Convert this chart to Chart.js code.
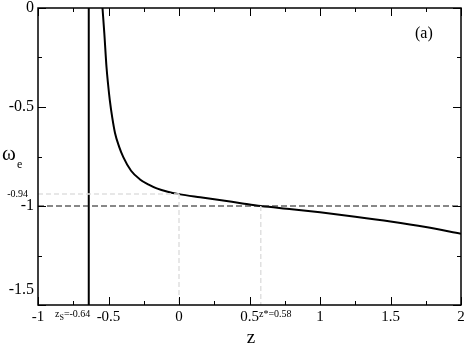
<!DOCTYPE html>
<html>
<head>
<meta charset="utf-8">
<script src="https://cdn.jsdelivr.net/npm/chart.js@4.4.1/dist/chart.umd.min.js"></script>
<style>
  html, body { margin: 0; padding: 0; background: #fff; }
  #wrap { width: 468px; height: 346px; }
</style>
</head>
<body>
<div id="wrap"><canvas id="chart"></canvas></div>
<script>
// curve omega_e(z)
const zValues = [-0.5426, -0.5298, -0.5142, -0.503, -0.4908, -0.473, -0.4539, -0.425, -0.395,
  -0.34, -0.2766, -0.215, -0.158, -0.08, 0, 0.15, 0.3, 0.45, 0.58, 0.8, 1.0, 1.25, 1.5, 1.75, 2.0];
const omegaValues = [0, -0.126, -0.298, -0.385, -0.465, -0.555, -0.631, -0.70, -0.753,
  -0.822, -0.866, -0.892, -0.911, -0.928, -0.94, -0.956, -0.971, -0.987, -1.0, -1.016, -1.032, -1.054, -1.078, -1.106, -1.14];

// reference lines
const zSingular = -0.64;
const zStar = 0.58;
const omegaToday = -0.94;
const omegaPhantom = -1;

const xRange = [-1, 2];
const yRange = [-1.5, 0];
const xMajor = [-1, -0.5, 0, 0.5, 1, 1.5, 2];
const xMinor = [-0.75, -0.25, 0.25, 0.75, 1.25, 1.75];
const yMajor = [0, -0.5, -1, -1.5];
const yMinor = [-0.25, -0.75, -1.25];
const yLabels = ['0', '-0.5', '-1', '-1.5'];

const SERIF = '"Liberation Serif", "DejaVu Serif", serif';

function pts(xs, ys) {
  return xs.map((x, i) => ({ x: x, y: ys[i] }));
}

// frame, inward ticks, y labels and annotations
const framePlugin = {
  id: 'frame',
  afterDatasetsDraw(chart) {
    const ctx = chart.ctx;
    const a = chart.chartArea;
    const xs = chart.scales.x;
    const ys = chart.scales.y;
    ctx.save();
    ctx.strokeStyle = '#000';
    ctx.lineWidth = 1.5;
    ctx.strokeRect(a.left, a.top, a.right - a.left, a.bottom - a.top);

    ctx.lineWidth = 1;
    const tick = (v, len, horizontal) => {
      ctx.beginPath();
      if (horizontal) {
        const p = Math.round(xs.getPixelForValue(v)) + 0.5;
        ctx.moveTo(p, a.bottom); ctx.lineTo(p, a.bottom - len);
        ctx.moveTo(p, a.top); ctx.lineTo(p, a.top + len);
      } else {
        const p = Math.round(ys.getPixelForValue(v)) + 0.5;
        ctx.moveTo(a.left, p); ctx.lineTo(a.left + len, p);
        ctx.moveTo(a.right, p); ctx.lineTo(a.right - len, p);
      }
      ctx.stroke();
    };
    xMajor.forEach(v => tick(v, 8, true));
    xMinor.forEach(v => tick(v, 4, true));
    yMajor.forEach(v => tick(v, 8, false));
    yMinor.forEach(v => tick(v, 4, false));

    ctx.fillStyle = '#000';
    ctx.font = '16px ' + SERIF;
    ctx.textAlign = 'right';
    ctx.textBaseline = 'middle';
    yMajor.forEach((v, i) => {
      let p = ys.getPixelForValue(v);
      if (v === -1.5) p -= 15;
      ctx.fillText(yLabels[i], a.left - 4, p);
    });

    ctx.font = '10px ' + SERIF;
    ctx.fillText('-0.94', 28, ys.getPixelForValue(omegaToday));

    // omega_e
    ctx.textAlign = 'left';
    ctx.textBaseline = 'alphabetic';
    ctx.font = '21px ' + SERIF;
    ctx.fillText('ω', 2, 160);
    ctx.font = '12px ' + SERIF;
    ctx.fillText('e', 17, 168);

    // z_s and z* labels
    ctx.font = '10px ' + SERIF;
    ctx.fillText('z', 55, 317);
    let w = ctx.measureText('z').width;
    ctx.font = '8px ' + SERIF;
    ctx.fillText('S', 55 + w, 320);
    let w2 = ctx.measureText('S').width;
    ctx.font = '10px ' + SERIF;
    ctx.fillText('=-0.64', 55 + w + w2, 317);
    ctx.fillText('z*=0.58', 259, 317);

    ctx.font = '16px ' + SERIF;
    ctx.fillText('(a)', 415, 38);

    ctx.textAlign = 'center';
    ctx.font = '19px ' + SERIF;
    ctx.fillText('z', 251, 343);
    ctx.restore();
  }
};

const ctx = document.getElementById('chart').getContext('2d');
new Chart(ctx, {
  type: 'line',
  data: {
    datasets: [
      {
        data: pts([xRange[0], 0], [omegaToday, omegaToday]),
        borderColor: '#e0e0e0', borderWidth: 1.5, borderDash: [5, 3],
        pointRadius: 0
      },
      {
        data: pts([0, 0], [omegaToday, yRange[0]]),
        borderColor: '#e0e0e0', borderWidth: 1.5, borderDash: [5, 3],
        pointRadius: 0
      },
      {
        data: pts([zStar, zStar], [omegaPhantom, yRange[0]]),
        borderColor: '#e0e0e0', borderWidth: 1.5, borderDash: [5, 3],
        pointRadius: 0
      },
      {
        data: pts(xRange, [omegaPhantom, omegaPhantom]),
        borderColor: '#111', borderWidth: 1, borderDash: [6, 3],
        pointRadius: 0
      },
      {
        data: pts([zSingular, zSingular], yRange),
        borderColor: '#000', borderWidth: 2,
        pointRadius: 0
      },
      {
        data: pts(zValues, omegaValues),
        borderColor: '#000', borderWidth: 2,
        cubicInterpolationMode: 'monotone',
        pointRadius: 0
      }
    ]
  },
  options: {
    responsive: true,
    maintainAspectRatio: false,
    animation: false,
    layout: { padding: { top: 8, right: 7, left: 0, bottom: 0 } },
    plugins: {
      legend: { display: false },
      tooltip: { enabled: false }
    },
    scales: {
      x: {
        type: 'linear',
        min: xRange[0],
        max: xRange[1],
        grid: { display: false, drawTicks: false },
        border: { display: false },
        ticks: {
          stepSize: 0.5,
          color: '#000',
          padding: 3,
          maxRotation: 0,
          autoSkip: false,
          font: { family: SERIF, size: 15 },
          callback: v => String(v)
        },
        afterFit(scale) { scale.height = 41; }
      },
      y: {
        type: 'linear',
        min: yRange[0],
        max: yRange[1],
        grid: { display: false, drawTicks: false },
        border: { display: false },
        ticks: { display: false },
        afterFit(scale) { scale.width = 38; }
      }
    }
  },
  plugins: [framePlugin]
});
</script>
</body>
</html>
